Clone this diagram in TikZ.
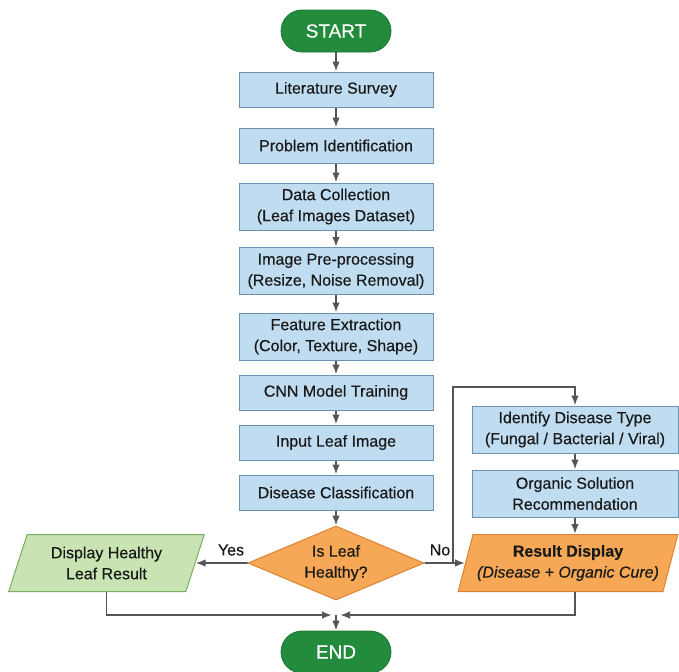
\documentclass[tikz,border=0pt]{standalone}
\usepackage{fontspec}
\setmainfont{Liberation Sans}
\newfontfamily\medfont[FakeBold=0.35]{Liberation Sans}
\usetikzlibrary{
  shapes.geometric,
  arrows.meta,
  positioning,
  calc
}
\definecolor{termcolor}{RGB}{34, 139, 60}
\definecolor{stepfill}{RGB}{192, 220, 241}
\definecolor{stepdraw}{RGB}{108, 146, 178}
\definecolor{decisionfill}{RGB}{247, 168, 86}
\definecolor{decisiondraw}{RGB}{222, 130, 50}
\definecolor{healthyfill}{RGB}{201, 228, 178}
\definecolor{healthydraw}{RGB}{122, 172, 98}
\definecolor{arrowcolor}{RGB}{85, 85, 85}
\definecolor{labelcolor}{RGB}{25, 25, 25}
\tikzset{
blocktext/.style={
  align=center,
  font=\medfont\fontsize{8}{10.5}\selectfont,
  text=labelcolor
},
terminal/.style={
  draw=termcolor!85!black,
  fill=termcolor,
  rounded corners=10.5pt,
  minimum width=55pt,
  minimum height=21pt,
  font=\medfont\fontsize{9.5}{11}\selectfont,
  text=white
},
stepbox/.style={
  draw=stepdraw,
  fill=stepfill,
  line width=0.5pt,
  minimum width=97pt,
  minimum height=17.5pt,
  inner sep=1pt,
  blocktext
},
tallbox/.style={
  stepbox,
  minimum height=23.5pt
},
sidebox/.style={
  tallbox,
  minimum width=103pt
},
decision/.style={
  diamond,
  aspect=2.4,
  draw=decisiondraw,
  fill=decisionfill,
  line width=0.5pt,
  minimum width=88pt,
  minimum height=37pt,
  inner sep=0pt,
  blocktext
},
iobox/.style={
  trapezium,
  trapezium left angle=70,
  trapezium right angle=110,
  trapezium stretches=true,
  line width=0.5pt,
  minimum height=28.5pt,
  inner sep=1pt,
  blocktext
},
branchlabel/.style={
  font=\medfont\fontsize{8}{10}\selectfont,
  text=labelcolor
},
arrow/.style={
  -{Latex[length=5pt,width=3.8pt]},
  line width=0.9pt,
  draw=arrowcolor
}
}

\begin{document}
\begin{tikzpicture}[x=0.5pt, y=-0.5pt]
  \useasboundingbox (0,0) rectangle (679,671);
  % Column positions
  \def\colL{106.5} % healthy result
  \def\colM{336}   % main flow
  \def\colR{575}   % disease branch
  \def\colRes{568} % result display

  % Main column
  \node[terminal] (startnode) at (\colM,31) {START};
  \node[stepbox] (litsurvey) at (\colM,89.5) {Literature Survey};
  \node[stepbox] (probid) at (\colM,145.5) {Problem Identification};
  \node[tallbox] (datacoll) at (\colM,206.5) {Data Collection\\(Leaf Images Dataset)};
  \node[tallbox] (preproc) at (\colM,271) {Image Pre-processing\\(Resize, Noise Removal)};
  \node[tallbox] (featext) at (\colM,336.5) {Feature Extraction\\(Color, Texture, Shape)};
  \node[stepbox] (cnntrain) at (\colM,392.5) {CNN Model Training};
  \node[stepbox] (inputleaf) at (\colM,442.5) {Input Leaf Image};
  \node[stepbox] (diseaseclass) at (\colM,492.5) {Disease Classification};
  \node[decision] (isleaf) at (\colM,563) {Is Leaf\\Healthy?};
  \node[terminal] (endnode) at (\colM,652) {END};

  % Healthy branch
  \node[iobox, fill=healthyfill, draw=healthydraw, minimum width=98.5pt] (healthyres) at (\colL,563) {Display Healthy\\Leaf Result};

  % Disease branch
  \node[sidebox] (identify) at (\colR,429.5) {Identify Disease Type\\(Fungal / Bacterial / Viral)};
  \node[sidebox] (organic) at (\colR,493.5) {Organic Solution\\Recommendation};
  \node[iobox, fill=decisionfill, draw=decisiondraw, minimum width=110pt] (result) at (\colRes,563) {\textbf{Result Display}\\\textit{(Disease + Organic Cure)}};

  % Main flow arrows
  \draw[arrow] (startnode) -- (litsurvey);
  \draw[arrow] (litsurvey) -- (probid);
  \draw[arrow] (probid) -- (datacoll);
  \draw[arrow] (datacoll) -- (preproc);
  \draw[arrow] (preproc) -- (featext);
  \draw[arrow] (featext) -- (cnntrain);
  \draw[arrow] (cnntrain) -- (inputleaf);
  \draw[arrow] (inputleaf) -- (diseaseclass);
  \draw[arrow] (diseaseclass) -- (isleaf);

  % Yes / No
  \draw[arrow] (isleaf) -- (healthyres);
  \node[branchlabel] (yeslabel) at (231,550) {Yes};
  \draw[arrow] (isleaf) -- (result);
  \node[branchlabel] (nolabel) at (440,550) {No};
  \coordinate (nosplit) at (453,563);
  \coordinate (noup) at (453,387);
  \draw[arrow] (nosplit) -- (noup) -| (identify);
  \draw[arrow] (identify) -- (organic);
  \draw[arrow] (organic) -- (result.north -| organic);

  % Merge into END
  \coordinate (join) at (\colM,615);
  \draw[arrow] (healthyres.center |- healthyres.south) |- ([xshift=-2pt]join);
  \draw[arrow] (result.south -| organic) |- ([xshift=2pt]join);
  \draw[arrow] (join) -- (endnode);
\end{tikzpicture}
\end{document}
